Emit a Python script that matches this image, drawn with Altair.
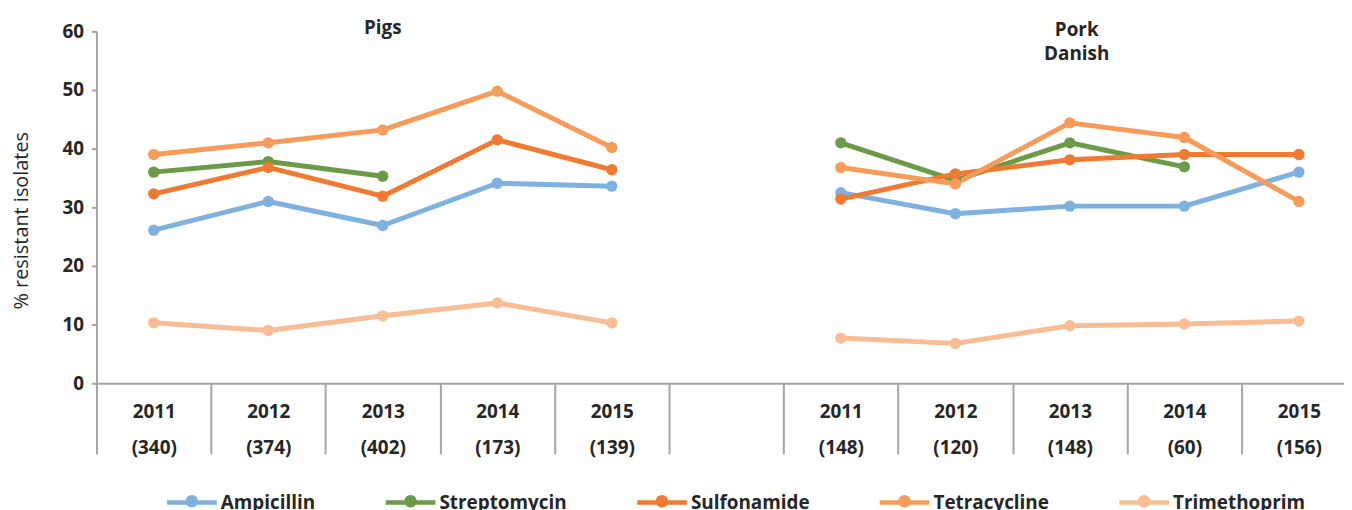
import json
import altair as alt
import pandas as pd

# ---------------- data ----------------
series = ["Ampicillin", "Streptomycin", "Sulfonamide", "Tetracycline", "Trimethoprim"]
colors = ["#7FB1E0", "#6B9B47", "#F07A32", "#F79B5A", "#F9BC93"]
years = ["2011", "2012", "2013", "2014", "2015"]
pigs_n = ["(340)", "(374)", "(402)", "(173)", "(139)"]
pork_n = ["(148)", "(120)", "(148)", "(60)", "(156)"]
groups = ["Pigs", "Pork\nDanish"]

pigs_ampicillin = [26.1, 31.0, 26.9, 34.1, 33.6]
pigs_streptomycin = [36.0, 37.8, 35.3, None, None]
pigs_sulfonamide = [32.3, 36.8, 31.9, 41.5, 36.4]
pigs_tetracycline = [39.0, 41.0, 43.2, 49.8, 40.2]
pigs_trimethoprim = [10.3, 9.0, 11.5, 13.7, 10.3]

pork_ampicillin = [32.5, 28.9, 30.2, 30.2, 36.0]
pork_streptomycin = [41.0, 34.6, 41.0, 36.9, None]
pork_sulfonamide = [31.4, 35.7, 38.1, 39.0, 39.0]
pork_tetracycline = [36.8, 34.0, 44.4, 41.9, 31.0]
pork_trimethoprim = [7.7, 6.8, 9.8, 10.1, 10.6]

# ---------------- build table ----------------
pigs_all = [pigs_ampicillin, pigs_streptomycin, pigs_sulfonamide, pigs_tetracycline, pigs_trimethoprim]
pork_all = [pork_ampicillin, pork_streptomycin, pork_sulfonamide, pork_tetracycline, pork_trimethoprim]

rows = []
for s, pv, kv in zip(series, pigs_all, pork_all):
    for i, v in enumerate(pv):
        if v is not None:
            rows.append({"series": s, "line_series": s, "group": "Pigs", "idx": i, "value": v})
    for i, v in enumerate(kv):
        if v is not None:
            rows.append({"series": s, "line_series": s, "group": "Pork", "idx": i + 6, "value": v})
df = pd.DataFrame(rows)

# category labels along x (index 5 is the empty gap)
cat_labels = [[y, n] for y, n in zip(years, pigs_n)] + [["", ""]] + [[y, n] for y, n in zip(years, pork_n)]
label_expr = json.dumps(cat_labels).replace('"', "'") + "[round(datum.value + 0.5)]"
boundaries = [i - 0.5 for i in range(len(cat_labels))]

ann = pd.DataFrame({
    "text": groups,
    "idx": [2, 8.06],
    "ypix": [-12, -10],
})

# ---------------- layout ----------------
W, H = 1255, 354
x_lo, x_hi = -0.5, 10.394
half_band = W / (x_hi - x_lo) / 2

FONT = "Open Sans"
TXT = "#262626"
GRAY = "#A5A5A5"

x_enc = alt.X(
    "idx:Q",
    scale=alt.Scale(domain=[x_lo, x_hi], nice=False, zero=False),
    axis=alt.Axis(
        values=boundaries, title=None, grid=False,
        tickSize=71, tickWidth=2, tickColor=GRAY,
        domainColor=GRAY, domainWidth=2,
        labelExpr=label_expr, labelOffset=half_band, labelPadding=-52,
        labelBaseline="top", labelAlign="center", labelLineHeight=37,
        labelFont=FONT, labelFontSize=19, labelFontWeight="bold", labelColor=TXT,
        labelOverlap=False, labelFlush=False, labelBound=False,
    ),
)
y_enc = alt.Y(
    "value:Q",
    scale=alt.Scale(domain=[0, 60], nice=False),
    axis=alt.Axis(
        values=[0, 10, 20, 30, 40, 50, 60], grid=False,
        tickSize=5, tickWidth=2, tickColor=GRAY,
        domainColor=GRAY, domainWidth=2,
        labelFont=FONT, labelFontSize=19, labelFontWeight="bold", labelColor=TXT, labelPadding=8,
        title="% resistant isolates", titleFont=FONT, titleFontSize=20, titleFontWeight="normal",
        titleColor=TXT, titleX=-75, titleY=190, titleAngle=-90, titleBaseline="middle", titleAlign="center",
    ),
)

color_scale = alt.Scale(domain=series, range=colors)

# legend glyph: a short line with a dot, both wound clockwise so the fill is solid
legend_symbol = ("M-1,-0.09H1V0.09H-1Z "
                 "M-0.25,-0.05A0.25,0.25,0,1,1,0.25,-0.05A0.25,0.25,0,1,1,-0.25,-0.05Z")

base = alt.Chart(df)

lines = base.mark_line(strokeWidth=5, strokeJoin="round", strokeCap="round").encode(
    x=x_enc, y=y_enc,
    stroke=alt.Stroke("line_series:N", scale=color_scale, legend=None),
    detail="group:N",
)

points = base.mark_point(filled=True, size=130, opacity=1, shape="circle").encode(
    x=x_enc, y=y_enc,
    color=alt.Color(
        "series:N", scale=color_scale,
        legend=alt.Legend(
            title=None, orient="none", legendX=71, legendY=449, direction="horizontal",
            symbolType=legend_symbol, symbolSize=2500, symbolStrokeWidth=0, symbolOpacity=1,
            labelFont=FONT, labelFontSize=19, labelFontWeight="bold", labelColor=TXT,
            labelOffset=4, columnPadding=70, labelLimit=0,
        ),
    ),
)

titles = alt.Chart(ann).mark_text(
    font=FONT, fontSize=19, fontWeight="bold", color=TXT, baseline="top", align="center",
    lineBreak="\n", lineHeight=24,
).encode(
    x=alt.X("idx:Q", scale=alt.Scale(domain=[x_lo, x_hi], nice=False, zero=False)),
    y=alt.value(0),
    yOffset=alt.YOffset("ypix:Q", scale=None),
    text="text:N",
)

chart = alt.layer(lines, points, titles).resolve_scale(stroke="independent").properties(
    width=W, height=H,
    autosize=alt.AutoSizeParams(type="none"),
    padding={"left": 89, "top": 22, "right": 0, "bottom": 126},
).configure_view(stroke=None)

chart.save("out.html", embed_options={"renderer": "svg", "actions": False})
